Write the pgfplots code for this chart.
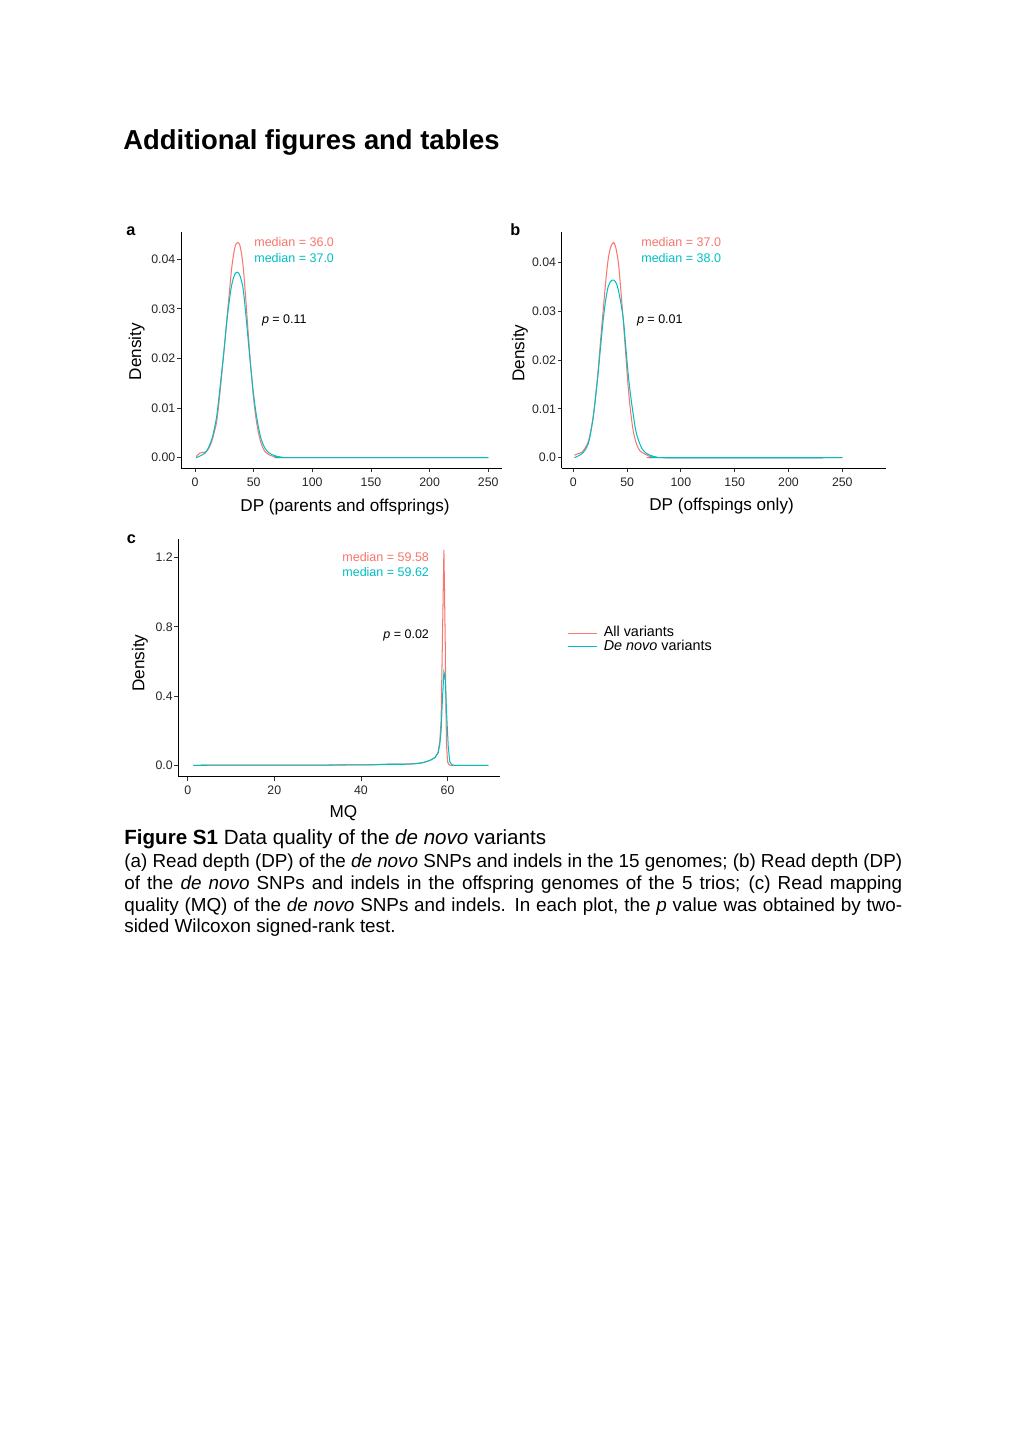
\documentclass[border=0pt]{standalone}
\usepackage{fontspec}
\setmainfont{Liberation Sans}
\usepackage{pgfplots}
\pgfplotsset{compat=1.18}
\definecolor{gred}{HTML}{F8766D}
\definecolor{gcyan}{HTML}{00BFC4}

\pgfplotstableread{
x y
1 0.0002
4 0.0009
8 0.0011
10 0.0013
12 0.0020
14.2 0.0032
16.3 0.0050
18.5 0.0073
20.6 0.0115
22.8 0.0167
25 0.0222
27 0.0274
29.2 0.0330
31.3 0.0382
33.5 0.0418
35 0.0431
36.4 0.0434
38 0.0430
39.6 0.0413
41.2 0.0382
43.3 0.0320
45.5 0.0247
47.6 0.0183
49.7 0.0126
51.8 0.0083
54 0.0052
56.5 0.0028
59.7 0.0012
63 0.0006
68 0.0002
75 0.00005
80 0
250 0
}\aRed
\pgfplotstableread{
x y
1 0.0000
4 0.0003
8.5 0.0009
11 0.0018
14.2 0.0036
16.3 0.0056
18.5 0.0083
20.6 0.0125
22.8 0.0173
25 0.0222
27 0.0271
29.2 0.0315
31.3 0.0348
33.5 0.0367
35 0.0373
36.4 0.0374
38 0.0369
39.6 0.0357
41.2 0.0338
43.3 0.0290
45.5 0.0234
47.6 0.0181
49.7 0.0133
51.8 0.0094
54 0.0063
56.5 0.0037
59.7 0.0019
63 0.0010
68 0.0004
73.7 0.0001
80 0
250 0
}\aCyan
\pgfplotstableread{
x y
1 0.0005
4 0.0008
7.8 0.0011
11 0.0020
13.9 0.0033
16.2 0.0055
18.6 0.0087
20.9 0.0131
23.2 0.0183
25.5 0.0245
27.9 0.0306
30.2 0.0363
32.5 0.0408
34.8 0.0432
37.5 0.0441
39.5 0.0430
41.8 0.0401
44.1 0.0345
46.5 0.0279
48.8 0.0209
51.1 0.0142
53.4 0.0092
55.8 0.0053
58.9 0.0027
62 0.0014
66 0.0008
69.7 0.0004
75 0.0001
80 0
250 0
}\bRed
\pgfplotstableread{
x y
1 0.0000
4 0.0003
7.8 0.0008
11 0.0016
13.9 0.0029
16.2 0.0052
18.6 0.0084
20.9 0.0128
23.2 0.0176
25.5 0.0231
27.9 0.0285
30.2 0.0325
32.5 0.0351
35 0.0362
37.6 0.0364
40 0.0357
41.8 0.0344
44.1 0.0318
46.5 0.0283
48.8 0.0226
51.1 0.0169
53.4 0.0125
55.8 0.0087
58 0.0056
60.5 0.0036
63.5 0.0020
66.7 0.0011
70.5 0.0006
74.4 0.0003
78 0.0001
82 0
250 0
}\bCyan
\pgfplotstableread{
x y
1.3 0
10 0.001
20 0.001
30 0.001
38 0.002
42 0.003
46 0.006
48 0.007
50 0.007
52 0.009
53.6 0.013
55 0.020
55.9 0.028
57.1 0.045
57.8 0.075
58.2 0.14
58.5 0.26
58.8 0.72
59.15 1.245
59.45 0.72
59.6 0.35
59.75 0.12
60 0.02
60.3 0.005
60.6 0
69.4 0
}\cRed
\pgfplotstableread{
x y
1.3 0
10 0.001
20 0.001
30 0.001
38 0.003
42 0.002
46 0.006
50 0.006
52 0.008
54 0.013
55.9 0.028
57.1 0.045
57.8 0.07
58.2 0.12
58.5 0.20
58.8 0.38
59.15 0.54
59.45 0.50
59.77 0.30
60.15 0.108
60.5 0.021
61 0.003
61.5 0
69.4 0
}\cCyan

\pgfplotsset{
  gg/.style={
    scale only axis,
    anchor=south west,
    axis lines*=left,
    axis line style={-, line width=0.55pt, black},
    tick align=outside,
    major tick length=2.3pt,
    every tick/.style={black!80, line width=0.5pt},
    tick label style={font=\fontsize{7.2}{8}\selectfont, text=black!85},
    yticklabel style={inner sep=0.8pt},
    xticklabel style={inner sep=3pt},
    label style={font=\fontsize{10}{12}\selectfont},
    scaled y ticks=false, scaled x ticks=false,
    /pgf/number format/assume math mode=true,
    clip=false,
  },
  dens/.style={line width=0.6pt, no markers},
}

\begin{document}
\begin{tikzpicture}[x=0.58361pt, y=-0.58361pt]
\fill[white] (0,0) rectangle (1020,1442);
\path[use as bounding box] (0,0) rectangle (1020,1442);

% title
\node[anchor=base west, inner sep=0, font=\fontsize{16}{19}\selectfont\bfseries] at (123,149) {Additional figures and tables};

% panel a
\begin{axis}[gg,
  at={(105.63pt,-273.13pt)},
  width=187.34pt, height=137.73pt,
  xmin=-11.9, xmax=261.7, ymin=-0.00208, ymax=0.0455,
  xtick={0,50,100,150,200,250}, xticklabels={0,50,100,150,200,250},
  ytick={0,0.01,0.02,0.03,0.04}, yticklabels={0.00,0.01,0.02,0.03,0.04},
  xlabel={DP (parents and offsprings)}, ylabel={Density},
  xlabel style={at={(axis description cs:0.511,-0.1665)}, anchor=center},
  ylabel style={at={(axis description cs:-0.138,0.493)}, anchor=center},
]
\addplot[dens, gred, smooth] table {\aRed};
\addplot[dens, gcyan, smooth] table {\aCyan};
\end{axis}

% panel b
\begin{axis}[gg,
  at={(327.81pt,-273.31pt)},
  width=189.26pt, height=138.08pt,
  xmin=-10.8, xmax=290.6, ymin=-0.00217, ymax=0.0463,
  xtick={0,50,100,150,200,250}, xticklabels={0,50,100,150,200,250},
  ytick={0,0.01,0.02,0.03,0.04}, yticklabels={0.0,0.01,0.02,0.03,0.04},
  xlabel={DP (offspings only)}, ylabel={Density},
  xlabel style={at={(axis description cs:0.493,-0.159)}, anchor=center},
  ylabel style={at={(axis description cs:-0.1286,0.487)}, anchor=center},
]
\addplot[dens, gred, smooth] table {\bRed};
\addplot[dens, gcyan, smooth] table {\bCyan};
\end{axis}

% panel c
\begin{axis}[gg,
  at={(104.06pt,-453.29pt)},
  width=187.75pt, height=138.55pt,
  xmin=-2.17, xmax=72.1, ymin=-0.066, ymax=1.306,
  xtick={0,20,40,60}, xticklabels={0,20,40,60},
  ytick={0,0.4,0.8,1.2}, yticklabels={0.0,0.4,0.8,1.2},
  xlabel={MQ}, ylabel={Density},
  xlabel style={at={(axis description cs:0.513,-0.152)}, anchor=center},
  ylabel style={at={(axis description cs:-0.119,0.479)}, anchor=center},
  legend style={draw=none, fill=none, at={(1.1927,0.6506)}, anchor=north west,
    font=\fontsize{8.4}{10}\selectfont, row sep=0pt,
    nodes={inner sep=0pt, text height=6.2pt, text depth=1.6pt},
    /tikz/every odd column/.style={column sep=3.5pt}},
  legend cell align=left,
  legend image code/.code={\draw[#1, line width=0.7pt] (0pt,-0.4pt) -- (17pt,-0.4pt);},
]
\addplot[dens, gred] table {\cRed};
\addlegendentry{All variants}
\addplot[dens, gcyan] table {\cCyan};
\addlegendentry{\textit{De novo} variants}
\end{axis}

% panel letters
\node[anchor=base west, inner sep=0, font=\fontsize{9.5}{11}\selectfont\bfseries] at (126,235) {a};
\node[anchor=base west, inner sep=0, font=\fontsize{9.5}{11}\selectfont\bfseries] at (510,235) {b};
\node[anchor=base west, inner sep=0, font=\fontsize{9.5}{11}\selectfont\bfseries] at (126.5,543) {c};

% annotations
\begin{scope}[every node/.style={inner sep=0, font=\fontsize{7.3}{8}\selectfont}]
\node[anchor=base west, text=gred] at (254,246.5) {median = 36.0};
\node[anchor=base west, text=gcyan] at (254,262) {median = 37.0};
\node[anchor=base west] at (261.7,323.5) {\textit{p} = 0.11};
\node[anchor=base west, text=gred] at (641,246.5) {median = 37.0};
\node[anchor=base west, text=gcyan] at (641,262) {median = 38.0};
\node[anchor=base west] at (636.7,323.5) {\textit{p} = 0.01};
\node[anchor=base east, text=gred] at (429.3,561.2) {median = 59.58};
\node[anchor=base east, text=gcyan] at (429.3,576.8) {median = 59.62};
\node[anchor=base east] at (429.3,638.5) {\textit{p} = 0.02};
\end{scope}

% caption
\node[anchor=base west, inner sep=0, font=\fontsize{12}{12.7}\selectfont] at (124,844.5) {\textbf{Figure S1} Data quality of the \textit{de novo} variants};
\node[anchor=north west, inner sep=0, text width=454pt, align=justify, font=\fontsize{11}{12.7}\selectfont] at (124,853.5) {\hyphenpenalty=10000 (a) Read depth (DP) of the \textit{de novo} SNPs and indels in the 15 genomes; (b) Read depth (DP)\linebreak{} of the \textit{de novo} SNPs and indels in the offspring genomes of the 5 trios; (c) Read mapping\linebreak{} quality (MQ) of the \textit{de novo} SNPs and indels. In each plot, the \textit{p} value was obtained by two-\linebreak{}sided Wilcoxon signed-rank test.};
\end{tikzpicture}
\end{document}
